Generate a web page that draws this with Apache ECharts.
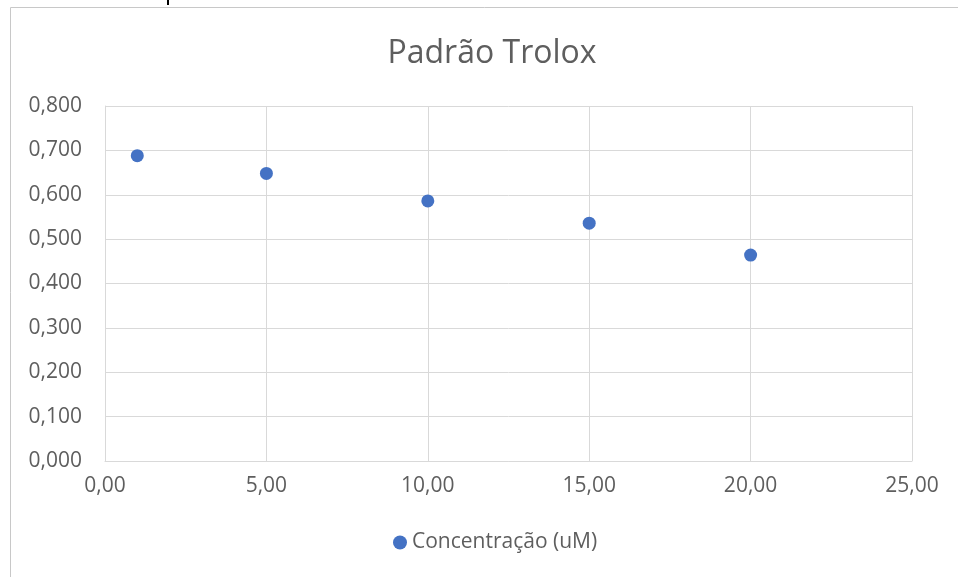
<!DOCTYPE html>
<html>
<head>
<meta charset="utf-8">
<script src="https://cdn.jsdelivr.net/npm/echarts@6/dist/echarts.min.js"></script>
<style>
  html, body { margin: 0; padding: 0; background: #fff; }
  #chart { width: 958px; height: 577px; }
</style>
</head>
<body>
<div id="chart"></div>
<script>
// concentração (uM) x absorbância
const concentracao = [1, 5, 10, 15, 20];
const absorbancia = [0.688, 0.648, 0.586, 0.536, 0.464];
const serieNome = 'Concentração (uM)';
const titulo = 'Padrão Trolox';

const pontos = concentracao.map((c, i) => [c, absorbancia[i]]);
const fmt = (v, d) => v.toFixed(d).replace('.', ',');
const font = '"Open Sans", "Noto Sans", sans-serif';

const chart = echarts.init(document.getElementById('chart'));
chart.setOption({
  animation: false,
  title: {
    text: titulo,
    left: 487,
    textAlign: 'center',
    top: 33,
    textStyle: { fontSize: 32, fontWeight: 'normal', color: '#5e5e5e', fontFamily: font }
  },
  legend: {
    top: 527,
    left: 388,
    itemWidth: 14,
    itemHeight: 14,
    itemGap: 6,
    icon: 'circle',
    textStyle: { fontSize: 21, color: '#5e5e5e', fontFamily: font }
  },
  grid: { left: 105, right: 46, top: 106, bottom: 116, containLabel: false },
  xAxis: {
    type: 'value',
    min: 0, max: 25, interval: 5,
    axisLine: { show: true, lineStyle: { color: '#d9d9d9' } },
    axisTick: { show: false },
    splitLine: { show: true, lineStyle: { color: '#d9d9d9' } },
    axisLabel: { margin: 15, fontSize: 21, color: '#5e5e5e', fontFamily: font, formatter: v => fmt(v, 2) }
  },
  yAxis: {
    type: 'value',
    min: 0, max: 0.8, interval: 0.1,
    axisLine: { show: true, lineStyle: { color: '#d9d9d9' } },
    axisTick: { show: false },
    splitLine: { show: true, lineStyle: { color: '#d9d9d9' } },
    axisLabel: { margin: 23, fontSize: 21, color: '#5e5e5e', fontFamily: font, formatter: v => fmt(v, 3) }
  },
  series: [{
    name: serieNome,
    type: 'scatter',
    symbolSize: 13,
    itemStyle: { color: '#4472c4', opacity: 1 },
    data: pontos
  }],
  graphic: [
    { type: 'rect', shape: { x: 10.5, y: 7.5, width: 960, height: 600 }, style: { fill: 'none', stroke: '#c8c8c8', lineWidth: 1 }, silent: true },
    { type: 'rect', shape: { x: 167, y: 0, width: 2, height: 5 }, style: { fill: '#000' }, silent: true }
  ]
});
</script>
</body>
</html>
